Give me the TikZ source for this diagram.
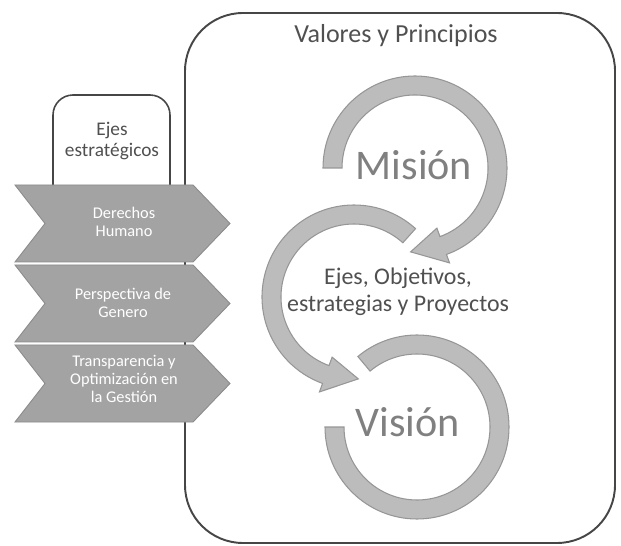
\documentclass[tikz,border=0pt]{standalone}
\usepackage{fontspec}
\setmainfont{Carlito}
\usetikzlibrary{calc}
\definecolor{chevgray}{RGB}{163,163,163}
\definecolor{ringgray}{RGB}{188,188,188}
\definecolor{edgegray}{RGB}{150,150,150}
\definecolor{framegray}{RGB}{70,70,70}
\definecolor{labelgray}{RGB}{80,80,80}

\begin{document}
\begin{tikzpicture}[x=0.02cm, y=0.02cm,
    ring/.style={fill=ringgray, draw=edgegray, line width=0.6pt},
    chevron/.style={fill=chevgray, draw=chevgray!85!black, line width=0.5pt},
    chevtext/.style={align=center, text=white, font=\fontsize{9.3}{10}\selectfont},
    biglabel/.style={anchor=base, text=gray, font=\fontsize{24}{28}\selectfont}]
    \useasboundingbox (0,0) rectangle (621,-546);

    % marco de valores y principios
    \draw[framegray, line width=1.1pt, rounded corners=1.16cm] (185,-13) rectangle (615,-543);
    \node[anchor=base, text=labelgray, font=\fontsize{14.8}{17}\selectfont] (valores) at (396,-43) {Valores y Principios};

    % pestaña de ejes
    \draw[framegray, line width=0.9pt, fill=white] (53,-190) [rounded corners=0.4cm] -- (53,-95) -- (170,-95) [sharp corners] -- (170,-190);
    \node[align=center, text=labelgray, font=\fontsize{11}{12.5}\selectfont] (ejestab) at (112,-141) {Ejes\\estratégicos};

    % flechas de los ejes
    \foreach \t in {185,265,345}
        \draw[chevron] (15,-\t) -- (193,-\t) -- (230,-\t-38.5) -- (193,-\t-77) -- (15,-\t-77) -- (45,-\t-38.5) -- cycle;
    \node[chevtext] (derechos) at (124,-222) {Derechos\\Humano};
    \node[chevtext] (genero) at (123,-303) {Perspectiva de\\Genero};
    \node[chevtext] (gestion) at (124,-379) {Transparencia y\\Optimización en\\la Gestión};

    % ciclo
    \coordinate (cm) at (415,-168);
    \coordinate (ce) at (354,-297);
    \coordinate (cv) at (417,-427);
    \filldraw[ring] ($(ce)+(48:92)$) arc[start angle=48, end angle=250, radius=92]
        -- ($(ce)+(250:101)$) -- ($(ce)+(273:82)$) -- ($(ce)+(250:64)$) -- ($(ce)+(250:73)$)
        arc[start angle=250, end angle=48, radius=73] -- cycle;
    \filldraw[ring] ($(cm)+(180:92)$) arc[start angle=180, end angle=-70, radius=92]
        -- ($(cm)+(-70:101)$) -- ($(cm)+(-93:84)$) -- ($(cm)+(-70:64)$) -- ($(cm)+(-70:73)$)
        arc[start angle=-70, end angle=180, radius=73] -- cycle;
    \filldraw[ring] ($(cv)+(180:92)$) arc[start angle=180, end angle=490, radius=92]
        -- ($(cv)+(130:73)$) arc[start angle=490, end angle=180, radius=73] -- cycle;

    \node[biglabel] (mision) at (414,-180) {Misión};
    \node[align=center, text=labelgray, font=\fontsize{13.6}{15.2}\selectfont] (objetivos) at (398,-292) {Ejes, Objetivos,\\estrategias y Proyectos};
    \node[biglabel] (vision) at (408,-437) {Visión};
\end{tikzpicture}
\end{document}
